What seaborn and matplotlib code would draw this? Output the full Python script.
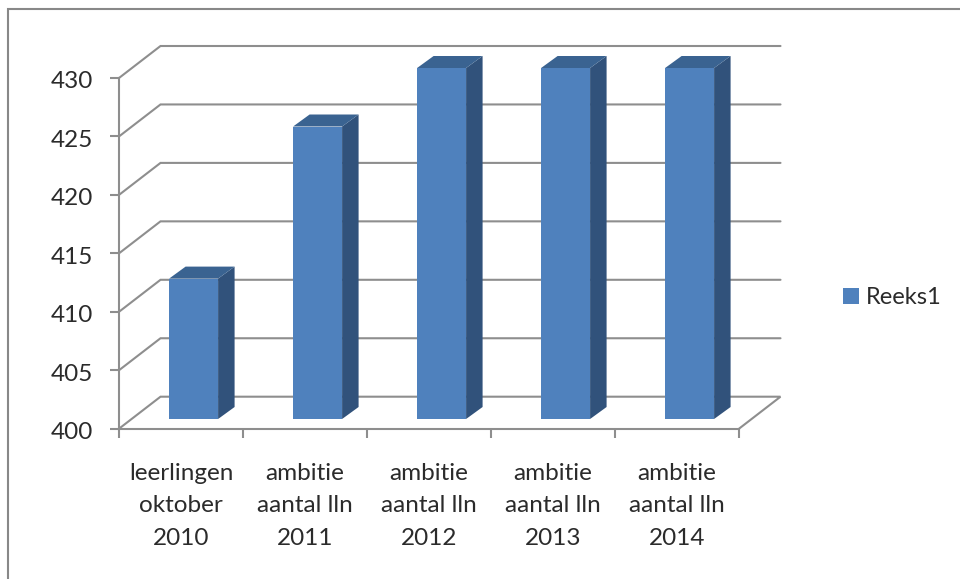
import matplotlib
matplotlib.use('Agg')
import matplotlib.pyplot as plt
import pandas as pd
import seaborn as sns
from matplotlib.lines import Line2D
from matplotlib.patches import Patch, Polygon
from matplotlib.transforms import IdentityTransform, ScaledTranslation

# chart data
categories = ['leerlingen\noktober\n2010', 'ambitie\naantal lln\n2011', 'ambitie\naantal lln\n2012',
              'ambitie\naantal lln\n2013', 'ambitie\naantal lln\n2014']
values = [412, 425, 430, 430, 430]
y_ticks = [400, 405, 410, 415, 420, 425, 430]
series_name = 'Reeks1'

W, H = 960, 579
FRONT = '#4F81BD'
SIDE = '#31527B'
TOP = '#3A6391'
LINE = '#8E8E8E'
TEXT = '#2B2B2B'
FONT = 17.5
LW = 1.5

sns.set_theme(style='white')
plt.rcParams['font.family'] = ['Lato', 'DejaVu Sans']

df = pd.DataFrame({'cat': categories, 'val': values})

fig = plt.figure(figsize=(W / 100, H / 100), dpi=100, facecolor='white')


def axes_px(x0, y_top, x1, y_bottom):
    return fig.add_axes([x0 / W, 1 - y_bottom / H, (x1 - x0) / W, (y_bottom - y_top) / H])


# front plane carries the axis lines and labels, bars sit a bit deeper in their own axes
ax = axes_px(119, 78, 739, 428.7)
ax_bar = axes_px(131.6, 68, 751.6, 419)
ax_bar.patch.set_alpha(0)

sns.barplot(data=df, x='cat', y='val', color=FRONT, saturation=1, width=0.395, ax=ax_bar,
            edgecolor=FRONT, linewidth=0)
ax_bar.set_ylim(400, 430)
ax_bar.set_xlim(-0.5, 4.5)
ax_bar.axis('off')

ax.set_xlim(-0.5, 4.5)
ax.set_ylim(400, 430)
ax.patch.set_alpha(0)
for s in ['top', 'right']:
    ax.spines[s].set_visible(False)
for s in ['left', 'bottom']:
    ax.spines[s].set_color(LINE)
    ax.spines[s].set_linewidth(LW)

ax.set_yticks(y_ticks)
ax.set_yticklabels(y_ticks, fontsize=FONT, color=TEXT)
ax.tick_params(axis='y', left=True, length=6.5, width=LW, color=LINE, pad=12)
# labels sit a little under their tick in the original
nudge = ScaledTranslation(0, -2 / 100, fig.dpi_scale_trans)
for lbl in ax.get_yticklabels():
    lbl.set_transform(lbl.get_transform() + nudge)
ax.set_xticks([i - 0.5 for i in range(len(categories) + 1)])
ax.set_xticklabels([])
ax.tick_params(axis='x', which='major', bottom=True, length=6.5, width=LW, color=LINE)
ax.set_xticks(range(len(categories)), minor=True)
ax.set_xticklabels(categories, minor=True, fontsize=FONT, color=TEXT, linespacing=1.67)
ax.tick_params(axis='x', which='minor', bottom=False, length=0, pad=24.5)

# back wall grid and floor, offset from the front plane in pixels
DX, DY = 41.5, 32
for v in y_ticks:
    (xa, ya), (xb, _) = ax.transData.transform([(-0.5, v), (4.5, v)])
    pts = [(xa, ya), (xa + DX, ya + DY), (xb + DX, ya + DY)]
    if v == y_ticks[0]:
        pts.append((xb, ya))
    ax.add_line(Line2D(*zip(*pts), transform=IdentityTransform(), color=LINE, lw=LW,
                       clip_on=False, zorder=1, solid_joinstyle='miter'))

# bar depth faces
BX, BY = 16.5, 12
for bar in list(ax_bar.patches):
    left = bar.get_x()
    right = left + bar.get_width()
    top = bar.get_y() + bar.get_height()
    (x0, y0), (x1, y1) = ax_bar.transData.transform([(left, 400), (right, top)])
    side = [(x1, y0), (x1 + BX, y0 + BY), (x1 + BX, y1 + BY), (x1, y1)]
    roof = [(x0, y1), (x0 + BX, y1 + BY), (x1 + BX, y1 + BY), (x1, y1)]
    ax_bar.add_patch(Polygon(side, transform=IdentityTransform(), fc=SIDE, ec='none', clip_on=False))
    ax_bar.add_patch(Polygon(roof, transform=IdentityTransform(), fc=TOP, ec='none', clip_on=False))

# legend
handles = [Patch(facecolor=FRONT, edgecolor='none')]
ax_bar.legend(handles, [series_name], loc='center left', bbox_to_anchor=(843 / W, 1 - 297.5 / H),
              bbox_transform=fig.transFigure, frameon=False, fontsize=17, labelcolor=TEXT,
              handlelength=0.68, handleheight=0.68, handletextpad=0.27, borderpad=0, borderaxespad=0)

# chart frame, cut off at the right and bottom of the image
fig.add_artist(Line2D([7.5 / W, 7.5 / W, 1], [0, 1 - 9 / H, 1 - 9 / H], transform=fig.transFigure,
                      color='#888888', lw=LW, solid_joinstyle='miter'))

fig.savefig('out.png', dpi=100)
